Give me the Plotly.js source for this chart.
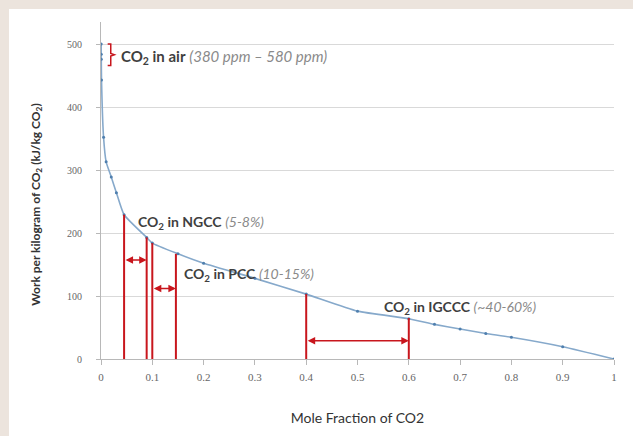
<!DOCTYPE html>
<html>
<head>
<meta charset="utf-8">
<script src="https://cdn.plot.ly/plotly-3.0.1.min.js"></script>
<style>html,body{margin:0;padding:0;background:#ece4dd;}#chart{width:633px;height:436px;}</style>
</head>
<body>
<div id="chart"></div>
<script>
// Curve: work per kg CO2 vs mole fraction
var moleFraction = [0.00038, 0.00048, 0.00058, 0.001, 0.005, 0.01, 0.02, 0.03, 0.045, 0.089, 0.1, 0.15, 0.2, 0.3, 0.4, 0.5, 0.6, 0.65, 0.7, 0.75, 0.8, 0.9, 1.0];
var workPerKg = [500, 484, 476, 443, 352, 313, 289, 264, 229, 193, 184, 167, 152, 128, 103, 76, 64, 55, 47.5, 40.5, 34.5, 19.5, 0];

// Red range markers (vertical lines)
var rangeLineX = [0.045, 0.089, 0.1, 0.146, 0.4, 0.6];
var rangeLineTop = [229, 193, 184, 167, 103, 65];

// Double-headed arrows
var arrowFrom = [0.045, 0.1, 0.4];
var arrowTo = [0.089, 0.146, 0.6];
var arrowY = [157, 112, 29];

// Labels
var labelNames = ['CO<sub>2</sub> in air', 'CO<sub>2</sub> in NGCC', 'CO<sub>2</sub> in PCC', 'CO<sub>2</sub> in IGCCC'];
var labelRanges = ['(380 ppm \u2013 580 ppm)', '(5-8%)', '(10-15%)', '(~40-60%)'];
var labelX = [0.036, 0.069, 0.157, 0.547];
var labelY = [480, 216, 134, 81];
var labelSizes = [15, 14, 14, 14];

var xTicks = [0, 0.1, 0.2, 0.3, 0.4, 0.5, 0.6, 0.7, 0.8, 0.9, 1];
var yTicks = [0, 100, 200, 300, 400, 500];

var red = '#c8161d';
var shapes = [];
// white panel
shapes.push({type:'rect', xref:'paper', yref:'paper', x0:-0.1793, x1:1.04, y0:-0.23, y1:1.0386,
  fillcolor:'#ffffff', line:{width:0}, layer:'below'});
for (var i = 0; i < rangeLineX.length; i++) {
  shapes.push({type:'line', xref:'x', yref:'y', x0:rangeLineX[i], x1:rangeLineX[i], y0:0, y1:rangeLineTop[i],
    line:{color:red, width:2}});
}
// bracket for air
shapes.push({type:'path', xref:'x', yref:'y',
  path:'M 0.013,500 L 0.019,500 L 0.019,485 L 0.026,483 L 0.019,481 L 0.019,466 L 0.013,466',
  line:{color:red, width:1.5}});

var annotations = [];
for (var j = 0; j < labelNames.length; j++) {
  annotations.push({x:labelX[j], y:labelY[j], xref:'x', yref:'y', xanchor:'left', yanchor:'middle',
    showarrow:false,
    text:'<b>' + labelNames[j] + '</b> <i><span style="color:#8a8a8a">' + labelRanges[j] + '</span></i>',
    font:{family:'Lato', size:labelSizes[j], color:'#3f3f3f'}});
}
for (var k = 0; k < arrowFrom.length; k++) {
  annotations.push({x:arrowTo[k], y:arrowY[k], ax:arrowFrom[k], ay:arrowY[k], xref:'x', yref:'y', axref:'x', ayref:'y',
    text:'', showarrow:true, arrowside:'end+start', arrowhead:2, arrowsize:1, arrowwidth:1.5,
    arrowcolor:red, standoff:0, startstandoff:0});
}
// y axis title
annotations.push({xref:'paper', yref:'paper', x:-0.125, y:0.46, xanchor:'center', yanchor:'middle',
  textangle:-90, showarrow:false,
  text:'<b>Work per kilogram of CO<sub>2</sub> (kJ/kg CO<sub>2</sub>)</b>',
  font:{family:'Lato', size:12, color:'#333333'}});

var trace = {
  x: moleFraction, y: workPerKg, type:'scatter', mode:'lines+markers',
  line:{color:'#86a9cb', width:1.6, shape:'spline', smoothing:0.5},
  marker:{color:'#4f7fae', size:3},
  hoverinfo:'skip'
};

var layout = {
  width:633, height:436,
  margin:{l:101, r:19, t:22, b:77, pad:0},
  paper_bgcolor:'#ece4dd', plot_bgcolor:'rgba(0,0,0,0)',
  showlegend:false,
  xaxis:{range:[0,1], tickvals:xTicks, ticktext:xTicks.map(String), showgrid:false, zeroline:false,
    showline:true, linecolor:'#b8b8b8', linewidth:1, ticks:'outside', ticklen:5, tickcolor:'#b8b8b8',
    ticklabelstandoff:3,
    tickfont:{family:'Liberation Serif', size:11, color:'#666666'},
    title:{text:'Mole Fraction of CO2', standoff:30, font:{family:'Lato', size:14, color:'#333333'}}},
  yaxis:{range:[0,535], tickvals:yTicks, ticktext:yTicks.map(String), showgrid:true, gridcolor:'#d9d9d9', gridwidth:1,
    zeroline:false, showline:true, linecolor:'#b8b8b8', linewidth:1, ticks:'outside', ticklen:4, tickcolor:'#b8b8b8',
    ticklabelstandoff:12,
    tickfont:{family:'Liberation Serif', size:10, color:'#666666'}},
  shapes:shapes,
  annotations:annotations
};

Plotly.newPlot('chart', [trace], layout, {displayModeBar:false, staticPlot:true});
</script>
</body>
</html>
